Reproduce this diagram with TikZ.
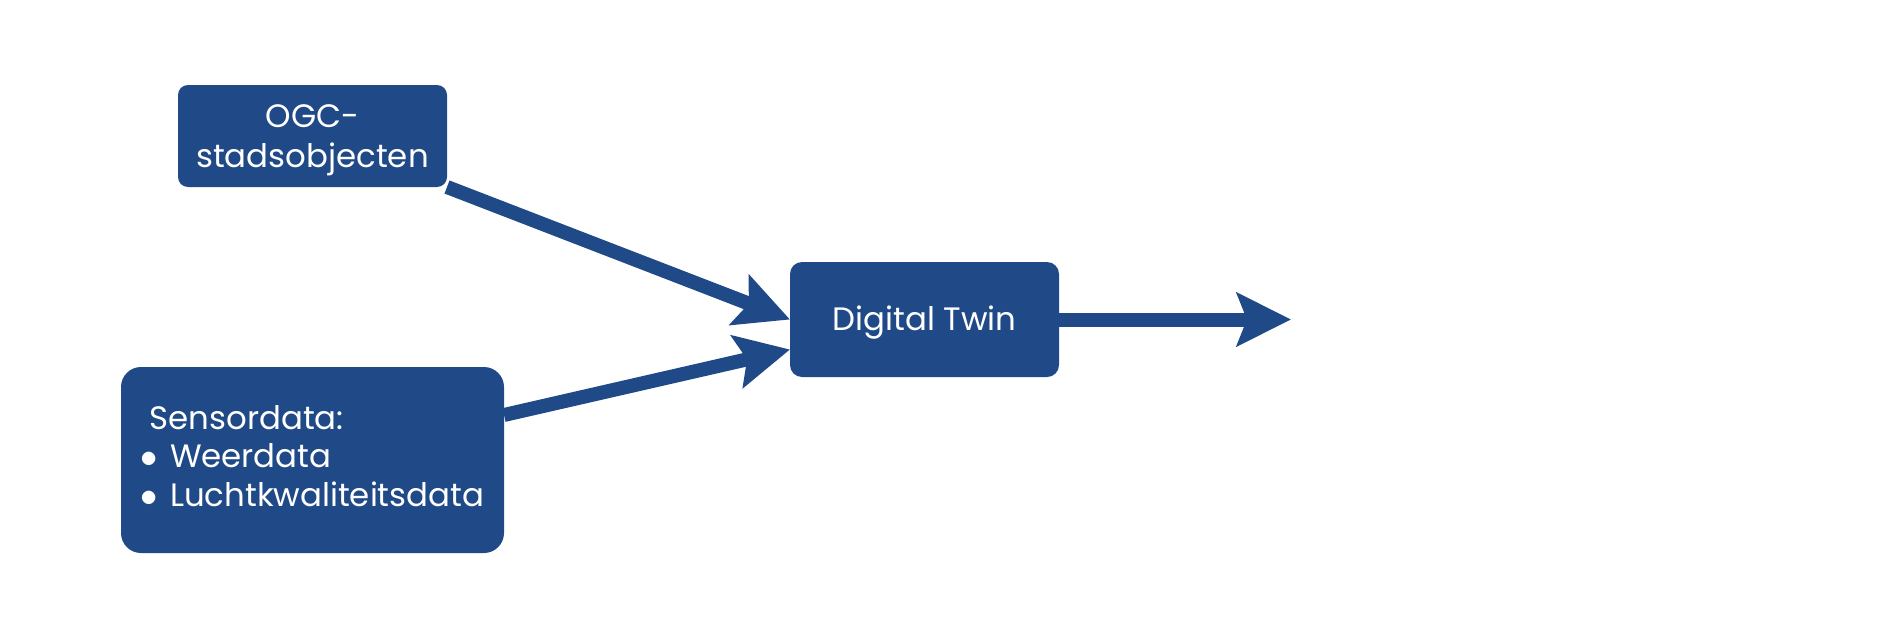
\documentclass[tikz,border=0pt]{standalone}
\usepackage{fontspec}
\setmainfont{Poppins}
\usetikzlibrary{arrows.meta}
\definecolor{twinblue}{RGB}{32,74,135}

\begin{document}
\begin{tikzpicture}[x=0.5pt,y=-0.5pt,->,>={Stealth[length=27pt,width=26.5pt,inset=5pt]},line width=7pt,color=twinblue,
  every node/.style={fill=twinblue,text=white,font=\fontsize{16.2}{20}\selectfont,inner sep=0pt,outer sep=0pt},
  block/.style={rounded corners=5pt,minimum width=134.5pt}]
\useasboundingbox (0,0) rectangle (1884,637);
\node[block,minimum height=51pt] (ogc) at (312.5,136)
  {\raisebox{-1.8pt}[\height][\depth]{\begin{tabular}{@{}c@{}}OGC-\\stadsobjecten\end{tabular}}};
\node[block,rounded corners=10pt,minimum width=191.5pt,minimum height=93pt] (sensor) at (312.5,460)
  {\fontsize{16.2}{19.25}\selectfont\begin{tabular}{@{}l@{}}\hspace*{4.5pt}Sensordata:\\
   $\bullet$\hspace{6pt}Weerdata\\
   $\bullet$\hspace{6pt}Luchtkwaliteitsdata\end{tabular}};
\node[block,rounded corners=6pt,minimum height=57.5pt,text height=11pt,text depth=0pt] (twin) at (924.5,319.5) {Digital Twin};
\coordinate (out) at (1291,319.5);
\path (ogc.south east) edge (twin.west)
      ([yshift=22.5pt]sensor.east) edge ([yshift=-15pt]twin.west)
      (twin.east) edge (out)
;
\end{tikzpicture}
\end{document}
